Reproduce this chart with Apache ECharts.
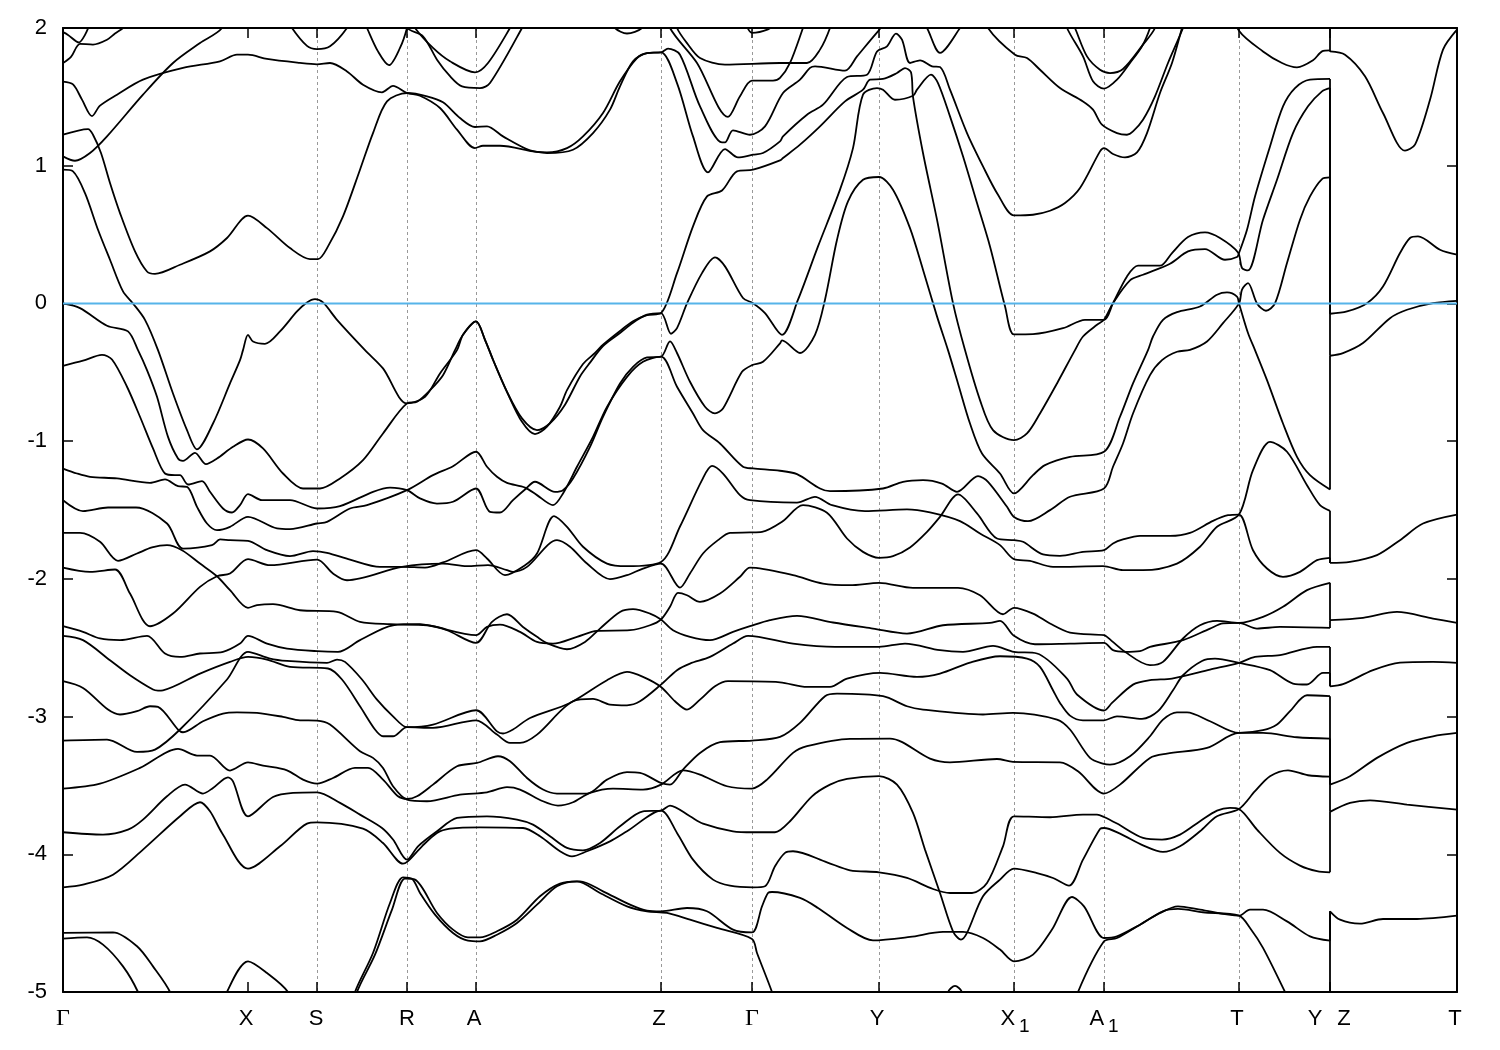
<!DOCTYPE html>
<html><head><meta charset="utf-8">
<style>html,body{margin:0;padding:0;background:#fff}#c{width:1500px;height:1050px}</style>
<script src="https://cdn.jsdelivr.net/npm/echarts@6/dist/echarts.min.js"></script>
</head><body><div id="c"></div>
<script>
const symPoints=[185,254,344,413,598,689,816,951,1041,1176,1267];
const xLabelPos=[0,183,253,344,411,596,689,814,952,1041,1174,1252,1281,1392];
const xLabelText=['{g|Γ}','{m|X}','{m|S}','{m|R}','{m|A}','{m|Z}','{g|Γ}','{m|Y}','{m|X}{s|1}','{m|A}{s|1}','{m|T}','{m|Y}','{m|Z}','{m|T}'];
const fermi=[[0,0],[1394,0]];

const b01=[[0,1.97],[5,1.95],[16,1.895],[22,1.95],[28,2.05]];
const b02=[[0,1.745],[8,1.79],[17,1.885],[30,1.88],[44,1.915],[52,1.96],[60,2.0],[66,2.06]];
const b03=[[0,1.61],[10,1.59],[19,1.48],[29,1.36],[37,1.436],[54,1.516],[80,1.625],[120,1.71],[157,1.758],[174,1.806],[185,1.806],[204,1.775],[237,1.746],[254,1.736],[267,1.746],[284,1.685],[300,1.588],[319,1.533],[330,1.58],[344,1.528],[357,1.508],[377,1.419],[394,1.262],[412,1.128],[420,1.145],[437,1.145],[470,1.104],[484,1.092],[510,1.116],[530,1.237],[547,1.407],[557,1.576],[570,1.758],[584,1.818],[598,1.823],[605,1.85],[617,1.806],[637,1.431],[659,1.169],[662,1.169],[670,1.257],[687,1.225],[702,1.286],[720,1.528],[737,1.625],[747,1.71],[752,1.722],[782,1.69],[794,1.794],[815,1.976],[825,2.05],[855,2.1],[864,2.0],[877,1.82],[897,2.0],[905,2.1]];
const b04=[[0,1.225],[25,1.266],[30,1.225],[38,1.092],[47,.874],[57,.656],[72,.378],[84,.232],[92,.215],[117,.281],[147,.378],[164,.475],[185,.637],[204,.547],[227,.402],[247,.322],[255,.322],[265,.414],[280,.632],[297,.971],[310,1.237],[324,1.467],[344,1.528],[364,1.504],[380,1.46],[397,1.346],[412,1.281],[424,1.286],[440,1.213],[467,1.111],[484,1.097],[504,1.128],[520,1.213],[540,1.383],[557,1.613],[574,1.782],[584,1.818],[598,1.823],[614,1.6],[630,1.213],[645,.952],[662,1.121],[675,1.06],[690,1.08],[700,1.092],[717,1.177],[720,1.213],[744,1.37],[760,1.443],[784,1.644],[804,1.661],[814,1.83],[824,1.867],[833,1.959],[839,1.915],[847,1.746],[857,1.765],[869,1.722],[877,1.717],[887,1.552],[904,1.237],[920,.995],[935,.789],[951,.639],[970,.644],[987,.673],[1002,.729],[1017,.838],[1037,1.104],[1041,1.128],[1050,1.085],[1062,1.06],[1074,1.097],[1084,1.237],[1097,1.528],[1109,1.746],[1119,2.0],[1127,2.2]];
const b05=[[0,1.068],[12,1.036],[27,1.092],[44,1.213],[80,1.516],[110,1.746],[137,1.891],[159,2.0],[170,2.2]];
const b06=[[222,2.1],[229,2.0],[244,1.87],[254,1.847],[267,1.867],[284,2.0],[290,2.1]];
const b07=[[298,2.1],[304,2.0],[315,1.83],[326,1.73],[337,1.855],[344,2.0],[346,2.1]];
const b08=[[345,2.1],[352,2.0],[370,1.855],[387,1.758],[412,1.678],[425,1.746],[447,2.0],[454,2.1]];
const b09=[[340,2.1],[344,2.0],[360,1.94],[374,1.77],[387,1.65],[399,1.576],[417,1.564],[427,1.6],[459,2.0],[465,2.1]];
const b10=[[545,2.1],[552,2.0],[564,1.96],[579,2.0],[586,2.1]];
const b11=[[682,2.05],[689,1.965],[705,1.99],[712,2.03]];
const b12=[[605,2.2],[614,2.0],[624,1.89],[637,1.782],[662,1.734],[717,1.746],[744,1.746],[757,1.843],[767,2.0],[775,2.2],[995,2.2],[1004,2.0],[1020,1.794],[1030,1.613],[1041,1.56],[1054,1.625],[1067,1.746],[1079,1.867],[1087,2.0],[1095,2.2]];
const b13=[[600,2.2],[607,2.0],[634,1.746],[665,1.354],[677,1.504],[689,1.618],[710,1.618],[717,1.637],[727,1.746],[740,2.0],[750,2.2],[1000,2.2],[1012,2.0],[1024,1.794],[1037,1.697],[1047,1.673],[1060,1.702],[1080,1.879],[1092,2.0],[1100,2.2]];
const b14=[[915,2.2],[925,2.0],[952,1.806],[964,1.782],[977,1.697],[997,1.564],[1020,1.467],[1030,1.407],[1039,1.298],[1054,1.237],[1064,1.225],[1070,1.249],[1080,1.334],[1092,1.504],[1105,1.746],[1120,2.0],[1130,2.2]];
const b15=[[1165,2.2],[1176,1.98],[1200,1.83],[1219,1.746],[1234,1.714],[1250,1.765],[1259,1.83],[1267,1.837],[1267,1.83]];
const b16=[[1267,2.2],[1267,1.83],[1282,1.806],[1302,1.649],[1320,1.383],[1342,1.109],[1352,1.153],[1367,1.479],[1380,1.843],[1394,1.988]];
const b17=[[0,0],[17,-.034],[44,-.162],[65,-.203],[75,-.339],[84,-.484],[94,-.678],[105,-.969],[115,-1.126],[120,-1.143],[132,-1.085],[143,-1.167],[154,-1.126],[170,-1.041],[185,-.988],[200,-1.053],[220,-1.235],[240,-1.344],[257,-1.344],[277,-1.271],[300,-1.138],[320,-.944],[344,-.726],[354,-.714],[367,-.63],[380,-.521],[392,-.339],[400,-.228],[413,-.131],[422,-.264],[430,-.409],[444,-.642],[459,-.86],[472,-.949],[484,-.895],[497,-.75],[504,-.63],[520,-.44],[532,-.36],[540,-.3],[557,-.2],[570,-.13],[584,-.085],[598,-.07],[614,.22],[630,.56],[644,.777],[659,.82],[674,.959],[690,.971],[717,1.039],[720,1.056],[737,1.153],[757,1.286],[782,1.467],[800,1.552],[807,1.625],[820,1.63],[834,1.673],[842,1.709],[848,1.678],[850,1.5],[860,1.092],[874,.608],[890,.002],[902,-.339],[917,-.702],[930,-.92],[951,-.993],[964,-.944],[977,-.799],[994,-.581],[1012,-.339],[1020,-.24],[1034,-.155],[1041,-.119],[1050,.002],[1067,.167],[1080,.208],[1107,.288],[1125,.378],[1142,.395],[1162,.317],[1174,.337],[1176,.366],[1184,.535],[1192,.777],[1207,1.14],[1220,1.431],[1232,1.564],[1247,1.625],[1267,1.63],[1267,-.075],[1284,-.058],[1304,.002],[1320,.123],[1337,.366],[1347,.475],[1355,.487],[1377,.39],[1394,.354]];
const b18=[[0,.971],[10,.959],[22,.801],[35,.535],[47,.317],[60,.087],[70,0],[82,-.119],[95,-.339],[110,-.654],[124,-.92],[134,-1.06],[150,-.872],[167,-.581],[177,-.412],[180,-.339],[185,-.228],[190,-.276],[202,-.293],[217,-.203],[234,-.058],[244,.007],[252,.031],[260,.007],[274,-.119],[302,-.339],[320,-.472],[344,-.726],[362,-.678],[377,-.508],[394,-.339],[400,-.228],[413,-.131],[422,-.264],[430,-.409],[444,-.642],[459,-.835],[474,-.92],[487,-.87],[502,-.735],[517,-.53],[527,-.43],[540,-.31],[557,-.215],[570,-.14],[584,-.082],[598,-.07],[608,-.22],[614,-.179],[624,0],[639,.22],[652,.334],[662,.269],[680,.039],[690,.002],[702,-.07],[719,-.228],[735,.027],[755,.414],[777,.826],[790,1.128],[800,1.516],[814,1.564],[820,1.552],[832,1.479],[850,1.508],[854,1.552],[868,1.661],[875,1.6],[887,1.358],[900,1.068],[914,.729],[927,.414],[942,-.02],[951,-.225],[970,-.223],[1000,-.18],[1022,-.119],[1041,-.119],[1050,.002],[1064,.196],[1075,.274],[1097,.274],[1109,.366],[1125,.482],[1142,.516],[1157,.475],[1175,.37],[1179,.257],[1185,.24],[1200,.608],[1214,.898],[1230,1.237],[1245,1.431],[1259,1.54],[1267,1.564],[1267,-.075]];
const b19=[[0,-.453],[20,-.416],[39,-.373],[49,-.407],[64,-.605],[77,-.823],[90,-1.053],[102,-1.235],[112,-1.247],[117,-1.247],[125,-1.315],[139,-1.29],[147,-1.368],[160,-1.489],[169,-1.518],[177,-1.465],[185,-1.385],[199,-1.428],[227,-1.428],[254,-1.489],[277,-1.472],[310,-1.368],[327,-1.337],[344,-1.356],[357,-1.416],[374,-1.453],[390,-1.44],[413,-1.344],[427,-1.513],[437,-1.518],[450,-1.428],[462,-1.351],[472,-1.295],[492,-1.368],[500,-1.356],[510,-1.271],[527,-1.041],[540,-.823],[557,-.581],[570,-.46],[584,-.392],[598,-.387],[607,-.276],[614,-.36],[627,-.569],[642,-.75],[652,-.799],[660,-.763],[679,-.497],[689,-.448],[700,-.424],[717,-.29],[719,-.269],[737,-.36],[752,-.228],[762,.027],[774,.462],[785,.741],[800,.898],[816,.918],[830,.826],[847,.547],[860,.245],[874,-.094],[885,-.339],[895,-.581],[907,-.872],[919,-1.09],[937,-1.235],[951,-1.38],[970,-1.247],[982,-1.174],[1007,-1.114],[1041,-1.077],[1057,-.823],[1070,-.581],[1085,-.339],[1090,-.24],[1100,-.119],[1114,-.063],[1137,-.022],[1154,.063],[1164,.08],[1174,.05],[1176,0],[1185,-.215],[1192,-.339],[1204,-.557],[1220,-.872],[1234,-1.114],[1247,-1.247],[1267,-1.351],[1267,-.38]];
const b20=[[0,-1.199],[14,-1.235],[27,-1.259],[54,-1.271],[87,-1.303],[102,-1.278],[115,-1.327],[124,-1.332],[134,-1.477],[144,-1.598],[154,-1.646],[167,-1.622],[185,-1.55],[214,-1.634],[227,-1.639],[254,-1.598],[264,-1.586],[287,-1.489],[304,-1.465],[344,-1.356],[370,-1.247],[390,-1.182],[413,-1.077],[424,-1.186],[434,-1.259],[444,-1.303],[462,-1.337],[474,-1.392],[490,-1.465],[500,-1.38],[514,-1.186],[530,-.969],[544,-.751],[564,-.533],[580,-.424],[598,-.387],[614,-.605],[630,-.799],[640,-.92],[657,-1.017],[680,-1.186],[690,-1.198],[717,-1.215],[734,-1.24],[757,-1.344],[767,-1.363],[820,-1.344],[840,-1.295],[860,-1.283],[879,-1.308],[894,-1.368],[915,-1.254],[925,-1.295],[944,-1.477],[951,-1.55],[965,-1.581],[987,-1.501],[1007,-1.404],[1041,-1.344],[1050,-1.186],[1060,-1.017],[1070,-.799],[1087,-.521],[1099,-.412],[1114,-.351],[1127,-.337],[1144,-.276],[1160,-.143],[1176,0],[1179,.1],[1185,.148],[1194,0],[1203,-.053],[1212,0],[1224,.293],[1237,.608],[1247,.777],[1259,.903],[1267,.915],[1267,-.38],[1280,-.361],[1300,-.288],[1327,-.107],[1344,-.046],[1370,.002],[1394,.019]];
const b21=[[0,-1.429],[20,-1.508],[45,-1.482],[73,-1.482],[104,-1.598],[120,-1.78],[149,-1.755],[157,-1.714],[167,-1.719],[185,-1.724],[204,-1.792],[227,-1.835],[250,-1.799],[264,-1.811],[287,-1.86],[317,-1.913],[340,-1.913],[362,-1.918],[380,-1.881],[413,-1.792],[424,-1.852],[442,-1.973],[462,-1.901],[474,-1.816],[491,-1.545],[504,-1.622],[520,-1.767],[544,-1.889],[564,-1.908],[598,-1.877],[617,-1.62],[639,-1.283],[649,-1.18],[660,-1.235],[677,-1.392],[687,-1.429],[734,-1.446],[752,-1.404],[769,-1.465],[802,-1.508],[844,-1.496],[867,-1.518],[897,-1.581],[917,-1.671],[937,-1.755],[951,-1.857],[967,-1.869],[990,-1.913],[1040,-1.908],[1060,-1.937],[1080,-1.937],[1114,-1.889],[1137,-1.767],[1154,-1.622],[1176,-1.533],[1190,-1.211],[1207,-1.005],[1224,-1.077],[1244,-1.32],[1257,-1.465],[1267,-1.506],[1267,-1.884],[1287,-1.877],[1314,-1.828],[1337,-1.719],[1360,-1.598],[1394,-1.533]];
const b22=[[0,-1.918],[27,-1.949],[52,-1.932],[67,-2.107],[87,-2.344],[110,-2.252],[137,-2.058],[154,-1.981],[167,-1.961],[185,-1.857],[207,-1.901],[254,-1.86],[270,-1.961],[284,-2.01],[339,-1.913],[380,-1.889],[404,-1.908],[425,-1.9],[444,-1.937],[450,-1.949],[464,-1.913],[494,-1.719],[507,-1.767],[524,-1.889],[547,-2.002],[564,-1.973],[580,-1.925],[598,-1.889],[617,-2.063],[627,-1.961],[640,-1.816],[655,-1.719],[667,-1.666],[687,-1.663],[699,-1.659],[719,-1.586],[740,-1.465],[764,-1.52],[784,-1.707],[800,-1.804],[816,-1.847],[830,-1.835],[847,-1.772],[864,-1.659],[877,-1.55],[895,-1.387],[914,-1.525],[934,-1.707],[951,-1.719],[960,-1.731],[980,-1.823],[997,-1.833],[1020,-1.804],[1041,-1.792],[1050,-1.743],[1060,-1.714],[1077,-1.688],[1107,-1.688],[1127,-1.666],[1150,-1.579],[1165,-1.538],[1176,-1.533],[1190,-1.792],[1204,-1.925],[1220,-1.985],[1237,-1.949],[1254,-1.864],[1267,-1.847],[1267,-1.884]];
const b23=[[0,-1.666],[17,-1.666],[37,-1.731],[55,-1.869],[74,-1.816],[89,-1.772],[104,-1.755],[119,-1.792],[137,-1.889],[154,-1.981],[167,-2.082],[185,-2.21],[194,-2.191],[210,-2.184],[237,-2.228],[274,-2.24],[297,-2.312],[327,-2.329],[364,-2.337],[384,-2.373],[413,-2.465],[429,-2.312],[444,-2.257],[460,-2.349],[474,-2.421],[485,-2.47],[504,-2.511],[522,-2.458],[537,-2.361],[557,-2.24],[570,-2.22],[587,-2.252],[598,-2.295],[610,-2.373],[627,-2.421],[647,-2.445],[670,-2.385],[687,-2.344],[707,-2.3],[734,-2.269],[770,-2.317],[810,-2.361],[844,-2.397],[880,-2.337],[927,-2.32],[937,-2.305],[951,-2.414],[972,-2.475],[1007,-2.47],[1041,-2.465],[1050,-2.518],[1062,-2.53],[1077,-2.525],[1087,-2.494],[1120,-2.445],[1147,-2.361],[1160,-2.324],[1176,-2.32],[1194,-2.361],[1217,-2.349],[1267,-2.356],[1267,-2.3]];
const b24=[[0,-2.344],[20,-2.385],[37,-2.433],[57,-2.445],[84,-2.414],[102,-2.542],[117,-2.567],[137,-2.542],[160,-2.53],[177,-2.47],[185,-2.414],[204,-2.47],[224,-2.506],[254,-2.525],[275,-2.53],[297,-2.445],[330,-2.337],[357,-2.329],[370,-2.344],[413,-2.409],[424,-2.349],[437,-2.332],[457,-2.385],[474,-2.458],[490,-2.47],[514,-2.421],[534,-2.378],[567,-2.373],[587,-2.337],[598,-2.295],[607,-2.203],[615,-2.102],[624,-2.119],[637,-2.167],[657,-2.107],[677,-1.985],[687,-1.918],[730,-1.973],[760,-2.034],[787,-2.046],[816,-2.029],[850,-2.065],[895,-2.065],[917,-2.119],[940,-2.257],[951,-2.21],[970,-2.252],[987,-2.324],[1007,-2.39],[1041,-2.409],[1044,-2.421],[1062,-2.53],[1087,-2.627],[1100,-2.603],[1120,-2.433],[1137,-2.337],[1154,-2.305],[1176,-2.32],[1200,-2.276],[1220,-2.203],[1244,-2.082],[1267,-2.029],[1267,-2.3],[1300,-2.283],[1334,-2.24],[1370,-2.288],[1394,-2.32]];
const b25=[[0,-2.414],[20,-2.445],[47,-2.591],[67,-2.7],[90,-2.804],[95,-2.811],[100,-2.809],[137,-2.688],[167,-2.603],[185,-2.567],[204,-2.586],[227,-2.639],[265,-2.651],[279,-2.731],[297,-2.925],[312,-3.094],[320,-3.143],[330,-3.143],[344,-3.077],[370,-3.082],[413,-3.027],[434,-3.131],[447,-3.191],[457,-3.191],[474,-3.131],[510,-2.889],[530,-2.872],[547,-2.913],[564,-2.918],[577,-2.889],[598,-2.768],[614,-2.663],[627,-2.615],[647,-2.567],[670,-2.47],[685,-2.414],[730,-2.47],[772,-2.494],[816,-2.494],[842,-2.47],[877,-2.518],[900,-2.53],[930,-2.487],[951,-2.53],[974,-2.542],[1004,-2.724],[1014,-2.84],[1041,-2.956],[1049,-2.901],[1070,-2.768],[1087,-2.736],[1109,-2.724],[1147,-2.659],[1176,-2.61],[1192,-2.567],[1217,-2.554],[1254,-2.494],[1267,-2.494],[1267,-2.78],[1280,-2.765],[1310,-2.663],[1337,-2.608],[1370,-2.603],[1394,-2.61]];
const b26=[[0,-3.174],[44,-3.167],[74,-3.257],[92,-3.24],[117,-3.094],[164,-2.731],[185,-2.53],[207,-2.579],[224,-2.596],[264,-2.61],[274,-2.586],[282,-2.603],[299,-2.731],[314,-2.877],[330,-2.998],[344,-3.077],[370,-3.058],[413,-2.954],[434,-3.107],[440,-3.123],[450,-3.094],[467,-3.01],[507,-2.901],[544,-2.736],[564,-2.676],[580,-2.712],[598,-2.785],[612,-2.889],[624,-2.949],[637,-2.877],[652,-2.78],[665,-2.743],[717,-2.751],[744,-2.785],[767,-2.785],[784,-2.724],[817,-2.683],[854,-2.712],[877,-2.688],[907,-2.608],[937,-2.562],[964,-2.579],[977,-2.639],[990,-2.809],[997,-2.901],[1007,-2.993],[1020,-3.027],[1041,-3.027],[1054,-2.998],[1079,-3.017],[1095,-2.961],[1110,-2.809],[1120,-2.7],[1139,-2.596],[1152,-2.579],[1176,-2.61],[1207,-2.663],[1230,-2.76],[1244,-2.767],[1260,-2.683],[1267,-2.683],[1267,-2.78]];
const b27=[[0,-2.743],[20,-2.792],[45,-2.949],[57,-2.985],[74,-2.961],[87,-2.925],[95,-2.93],[115,-3.094],[120,-3.114],[140,-3.034],[160,-2.978],[174,-2.969],[194,-2.973],[220,-3.002],[237,-3.027],[254,-3.029],[267,-3.058],[297,-3.252],[310,-3.3],[320,-3.373],[330,-3.506],[344,-3.603],[364,-3.615],[397,-3.567],[424,-3.55],[444,-3.513],[457,-3.53],[480,-3.615],[495,-3.646],[510,-3.622],[527,-3.554],[550,-3.523],[580,-3.53],[598,-3.494],[620,-3.39],[637,-3.421],[664,-3.506],[689,-3.523],[704,-3.458],[730,-3.264],[744,-3.215],[787,-3.162],[827,-3.16],[867,-3.305],[887,-3.332],[934,-3.308],[950,-3.329],[997,-3.332],[1015,-3.397],[1041,-3.559],[1057,-3.494],[1087,-3.3],[1104,-3.269],[1144,-3.228],[1176,-3.119],[1200,-3.119],[1234,-3.15],[1267,-3.16],[1267,-3.494]];
const b28=[[0,-3.523],[37,-3.487],[77,-3.373],[115,-3.235],[134,-3.283],[147,-3.283],[167,-3.392],[185,-3.332],[200,-3.356],[224,-3.39],[240,-3.458],[254,-3.487],[270,-3.446],[292,-3.373],[305,-3.373],[320,-3.458],[335,-3.579],[344,-3.598],[354,-3.579],[370,-3.494],[394,-3.361],[414,-3.337],[435,-3.288],[447,-3.324],[464,-3.446],[480,-3.53],[494,-3.559],[524,-3.559],[544,-3.458],[564,-3.404],[577,-3.409],[598,-3.482],[607,-3.494],[620,-3.385],[637,-3.264],[657,-3.186],[689,-3.174],[717,-3.148],[737,-3.046],[762,-2.852],[774,-2.833],[820,-2.852],[844,-2.925],[860,-2.949],[920,-2.985],[950,-2.973],[994,-3.022],[1007,-3.094],[1027,-3.3],[1041,-3.344],[1047,-3.349],[1067,-3.288],[1087,-3.143],[1100,-3.022],[1114,-2.969],[1124,-2.969],[1147,-3.034],[1176,-3.119],[1200,-3.099],[1214,-3.058],[1227,-2.961],[1244,-2.845],[1267,-2.852],[1267,-3.494],[1287,-3.433],[1314,-3.3],[1344,-3.191],[1370,-3.143],[1394,-3.119]];
const b29=[[0,-3.84],[40,-3.857],[65,-3.821],[80,-3.748],[104,-3.579],[122,-3.494],[140,-3.559],[150,-3.518],[165,-3.441],[170,-3.47],[185,-3.724],[210,-3.584],[230,-3.554],[254,-3.55],[277,-3.627],[297,-3.712],[319,-3.809],[330,-3.893],[344,-4.039],[355,-3.942],[374,-3.833],[394,-3.736],[424,-3.724],[454,-3.748],[470,-3.785],[487,-3.869],[504,-3.954],[520,-3.971],[537,-3.918],[557,-3.797],[580,-3.688],[598,-3.683],[607,-3.646],[627,-3.724],[640,-3.777],[670,-3.833],[690,-3.84],[712,-3.84],[727,-3.76],[749,-3.579],[767,-3.494],[784,-3.453],[816,-3.433],[834,-3.494],[850,-3.7],[862,-3.966],[877,-4.281],[890,-4.559],[898,-4.62],[904,-4.571],[920,-4.305],[937,-4.184],[951,-4.104],[974,-4.136],[990,-4.172],[1006,-4.228],[1020,-4.039],[1037,-3.816],[1041,-3.809],[1057,-3.85],[1080,-3.935],[1100,-3.983],[1117,-3.942],[1137,-3.833],[1154,-3.724],[1176,-3.671],[1192,-3.542],[1207,-3.433],[1225,-3.39],[1245,-3.426],[1267,-3.436],[1267,-3.692],[1287,-3.627],[1307,-3.608],[1344,-3.639],[1394,-3.676]];
const b30=[[0,-4.24],[20,-4.22],[50,-4.148],[80,-3.966],[117,-3.724],[137,-3.622],[147,-3.688],[159,-3.845],[185,-4.104],[217,-3.942],[244,-3.777],[254,-3.768],[300,-3.814],[320,-3.918],[340,-4.068],[345,-4.05],[359,-3.942],[374,-3.845],[387,-3.814],[417,-3.804],[460,-3.809],[477,-3.869],[497,-3.978],[509,-4.015],[524,-3.978],[547,-3.906],[564,-3.833],[598,-3.683],[614,-3.845],[630,-4.039],[650,-4.184],[667,-4.228],[690,-4.24],[702,-4.232],[712,-4.087],[722,-3.99],[730,-3.978],[764,-4.058],[787,-4.116],[816,-4.131],[844,-4.172],[870,-4.252],[887,-4.281],[909,-4.281],[924,-4.208],[940,-3.942],[951,-3.724],[987,-3.731],[1020,-3.712],[1034,-3.712],[1041,-3.729],[1054,-3.777],[1080,-3.881],[1099,-3.893],[1117,-3.857],[1137,-3.76],[1154,-3.683],[1167,-3.663],[1176,-3.671],[1194,-3.821],[1217,-3.99],[1237,-4.082],[1254,-4.123],[1267,-4.131],[1267,-3.692]];
const b31=[[0,-4.571],[50,-4.567],[74,-4.668],[90,-4.814],[107,-5],[115,-5.2],[157,-5.2],[164,-5],[185,-4.777],[204,-4.862],[225,-5],[235,-5.2],[285,-5.2],[292,-5],[310,-4.717],[327,-4.354],[340,-4.167],[349,-4.177],[357,-4.281],[372,-4.438],[390,-4.571],[405,-4.627],[417,-4.632],[434,-4.584],[454,-4.499],[474,-4.366],[494,-4.232],[514,-4.196],[537,-4.281],[564,-4.378],[584,-4.414],[604,-4.426],[627,-4.475],[654,-4.535],[689,-4.615],[694,-4.717],[709,-5],[718,-5.2],[878,-5.2],[885,-5],[892,-4.956],[899,-5],[906,-5.2],[1008,-5.2],[1015,-5],[1041,-4.632],[1054,-4.608],[1077,-4.511],[1100,-4.414],[1115,-4.397],[1140,-4.421],[1176,-4.446],[1187,-4.535],[1200,-4.68],[1222,-5],[1235,-5.2],[1267,-5.2],[1267,-4.414]];
const b32=[[0,-4.613],[24,-4.603],[40,-4.656],[60,-4.814],[75,-5],[85,-5.2],[288,-5.2],[294,-5],[312,-4.729],[329,-4.402],[342,-4.177],[352,-4.184],[374,-4.426],[390,-4.547],[405,-4.603],[417,-4.603],[434,-4.559],[454,-4.475],[477,-4.305],[497,-4.213],[517,-4.196],[540,-4.269],[567,-4.366],[584,-4.409],[598,-4.414],[624,-4.39],[644,-4.414],[670,-4.547],[689,-4.567],[699,-4.378],[705,-4.281],[709,-4.274],[737,-4.317],[755,-4.39],[784,-4.535],[810,-4.625],[847,-4.6],[880,-4.564],[900,-4.564],[920,-4.608],[937,-4.692],[951,-4.777],[970,-4.729],[989,-4.547],[1009,-4.31],[1021,-4.378],[1041,-4.608],[1054,-4.596],[1074,-4.523],[1097,-4.426],[1115,-4.378],[1137,-4.402],[1176,-4.446],[1187,-4.402],[1200,-4.402],[1224,-4.487],[1247,-4.596],[1267,-4.627],[1267,-4.414],[1277,-4.475],[1297,-4.504],[1320,-4.47],[1354,-4.47],[1394,-4.446]];

const bands=[b01,b02,b03,b04,b05,b06,b07,b08,b09,b10,b11,b12,b13,b14,b15,b16,b17,b18,b19,b20,b21,b22,b23,b24,b25,b26,b27,b28,b29,b30,b31,b32];

const FONT='"Liberation Sans", Arial, sans-serif';
const chart=echarts.init(document.getElementById('c'),null,{renderer:'canvas'});
const axisLine={show:true,onZero:false,lineStyle:{color:'#000',width:2}};
const tickStyle={color:'#000',width:1.5};
// Each band is drawn in smooth runs, split where the path jumps at one k (Y to Z);
// the jump itself is drawn as a straight segment.
const series=[];
const lineOpts={type:'line',xAxisIndex:0,yAxisIndex:0,symbol:'none',silent:true,clip:true,z:3,lineStyle:{color:'#000',width:1.8}};
bands.forEach(d=>{
  let run=[d[0]];
  for(let i=1;i<d.length;i++){
    if(d[i][0]===d[i-1][0]){
      if(run.length>1) series.push({...lineOpts,data:run,smooth:0.3});
      series.push({...lineOpts,data:[d[i-1],d[i]]});
      run=[d[i]];
    } else run.push(d[i]);
  }
  if(run.length>1) series.push({...lineOpts,data:run,smooth:0.3});
});
series.push({type:'line',data:fermi,symbol:'none',silent:true,lineStyle:{color:'#56B4E9',width:2},z:4});
chart.setOption({
  animation:false,backgroundColor:'#fff',
  grid:{left:63,right:43,top:28,bottom:58,show:false},
  xAxis:[
   {type:'value',position:'bottom',min:0,max:1394,axisLine,
    axisTick:{show:true,inside:true,length:10,customValues:symPoints,lineStyle:tickStyle},
    axisLabel:{show:true,margin:9,customValues:xLabelPos,fontFamily:FONT,fontSize:22,color:'#000',showMinLabel:true,showMaxLabel:true,hideOverlap:false,
      formatter:v=>xLabelText[xLabelPos.indexOf(v)]||'',
      rich:{m:{fontFamily:FONT,fontSize:22,color:'#000',lineHeight:36},
            g:{fontFamily:'"Liberation Serif", serif',fontSize:24,color:'#000',lineHeight:36},
            s:{fontFamily:FONT,fontSize:19,color:'#000',lineHeight:20,height:20,verticalAlign:'bottom',padding:[0,0,0,4]}}},
    splitLine:{show:false}},
   {type:'value',position:'top',min:0,max:1394,axisLine,
    axisTick:{show:true,inside:true,length:10,customValues:symPoints,lineStyle:tickStyle},
    axisLabel:{show:false},
    splitLine:{show:true,showMinLine:false,showMaxLine:false,customValues:symPoints,lineStyle:{color:'#999',width:1,type:[3,3]}}}
  ],
  yAxis:[
   {type:'value',position:'left',min:-5,max:2,interval:1,axisLine,
    axisTick:{show:true,inside:true,length:10,lineStyle:tickStyle},
    axisLabel:{margin:16,fontFamily:FONT,fontSize:22,color:'#000'},splitLine:{show:false}},
   {type:'value',position:'right',min:-5,max:2,interval:1,axisLine,
    axisTick:{show:true,inside:true,length:10,lineStyle:tickStyle},
    axisLabel:{show:false},splitLine:{show:false}}
  ],
  series
});
</script></body></html>
